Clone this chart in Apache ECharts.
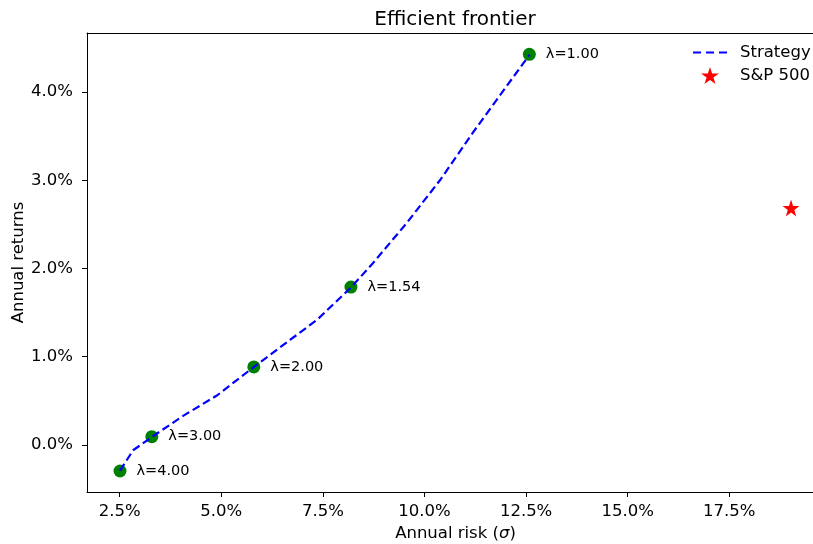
<!DOCTYPE html>
<html>
<head>
<meta charset="utf-8">
<script src="https://cdn.jsdelivr.net/npm/echarts@6/dist/echarts.min.js"></script>
<style>
  html, body { margin: 0; padding: 0; background: #fff; }
  #chart { width: 813px; height: 544px; }
</style>
</head>
<body>
<div id="chart"></div>
<script>
// frontier curve (risk %, return %)
const frontierRisk = [2.507, 2.83, 3.29, 4.06, 4.89, 5.79, 6.69, 7.36, 8.18, 8.73, 9.57, 10.38, 11.19, 12.58];
const frontierRet = [-0.29, -0.06, 0.09, 0.33, 0.56, 0.88, 1.19, 1.42, 1.78, 2.06, 2.52, 3.00, 3.54, 4.42];

// labelled lambda points
const lambdaNames = ['λ=4.00', 'λ=3.00', 'λ=2.00', 'λ=1.54', 'λ=1.00'];
const lambdaRisk = [2.507, 3.29, 5.80, 8.19, 12.58];
const lambdaRet = [-0.295, 0.094, 0.884, 1.79, 4.427];

// benchmark
const spRisk = [19.02];
const spRet = [2.686];

const xTicks = [2.5, 5.0, 7.5, 10.0, 12.5, 15.0, 17.5];
const yTicks = [0.0, 1.0, 2.0, 3.0, 4.0];

const FONT = 'DejaVu Sans';
const FS = 16.5;
const star = 'path://M0,-1 L0.2245,-0.309 L0.951,-0.309 L0.363,0.118 L0.588,0.809 L0,0.382 L-0.588,0.809 L-0.363,0.118 L-0.951,-0.309 L-0.2245,-0.309 Z';
const dashIcon = 'path://M0,0H8V2.2H0Z M13,0H21V2.2H13Z M26,0H34V2.2H26Z';

const chart = echarts.init(document.getElementById('chart'));

const option = {
  backgroundColor: '#fff',
  animation: false,
  textStyle: { fontFamily: FONT },
  title: {
    text: 'Efficient frontier',
    left: 450,
    top: 5,
    textAlign: 'center',
    textStyle: { fontFamily: FONT, fontSize: 20, fontWeight: 'normal', color: '#000' }
  },
  grid: { left: 87, top: 33, right: 0, bottom: 52, outerBoundsMode: 'none', containLabel: false },
  legend: {
    orient: 'vertical',
    left: 693,
    top: 44,
    padding: 0,
    itemWidth: 34,
    itemHeight: 17,
    itemGap: 6,
    textStyle: { fontFamily: FONT, fontSize: FS, color: '#000', padding: [0, 0, 0, 8] },
    data: [
      { name: 'Strategy', icon: dashIcon },
      { name: 'S&P 500' }
    ]
  },
  xAxis: [{
    type: 'value',
    min: 1.695,
    max: 19.56,
    name: 'Annual risk ({i|σ})',
    nameLocation: 'middle',
    nameGap: 28,
    nameTextStyle: {
      fontFamily: FONT, fontSize: FS, color: '#000', padding: [0, 0, 0, 11],
      rich: { i: { fontFamily: FONT, fontSize: FS, fontStyle: 'italic', color: '#000' } }
    },
    splitLine: { show: false },
    axisLine: { show: true, onZero: false, lineStyle: { color: '#000', width: 1 } },
    axisTick: { show: true, length: 5, customValues: xTicks, lineStyle: { color: '#000' } },
    axisLabel: {
      customValues: xTicks,
      fontFamily: FONT, fontSize: FS, color: '#000', margin: 11,
      formatter: v => v.toFixed(1) + '%'
    }
  }, {
    type: 'value',
    position: 'top',
    min: 1.695,
    max: 19.56,
    splitLine: { show: false },
    axisLine: { show: true, onZero: false, lineStyle: { color: '#000', width: 1 } },
    axisTick: { show: false },
    axisLabel: { show: false }
  }],
  yAxis: {
    type: 'value',
    min: -0.533,
    max: 4.669,
    name: 'Annual returns',
    nameLocation: 'middle',
    nameGap: 60,
    nameMoveOverlap: false,
    nameRotate: 90,
    nameTextStyle: { fontFamily: FONT, fontSize: FS, color: '#000' },
    splitLine: { show: false },
    axisLine: { show: true, onZero: false, lineStyle: { color: '#000', width: 1 } },
    axisTick: { show: true, length: 5, customValues: yTicks, lineStyle: { color: '#000' } },
    axisLabel: {
      customValues: yTicks,
      fontFamily: FONT, fontSize: FS, color: '#000', margin: 14,
      formatter: v => v.toFixed(1) + '%'
    }
  },
  series: [
    {
      name: 'lambdas',
      type: 'scatter',
      z: 2,
      symbol: 'circle',
      symbolSize: 13,
      itemStyle: { color: '#008000', opacity: 1 },
      data: lambdaRisk.map((x, i) => ({ value: [x, lambdaRet[i]], name: lambdaNames[i] })),
      label: {
        show: true,
        position: 'right',
        distance: 10,
        fontFamily: FONT,
        fontSize: 14.5,
        color: '#000',
        formatter: p => p.name
      }
    },
    {
      name: 'Strategy',
      type: 'line',
      z: 3,
      symbol: 'none',
      smooth: false,
      lineStyle: { color: '#0000ff', width: 2.2, type: [8, 4] },
      itemStyle: { color: '#0000ff' },
      data: frontierRisk.map((x, i) => [x, frontierRet[i]])
    },
    {
      name: 'S&P 500',
      type: 'scatter',
      z: 3,
      symbol: star,
      symbolSize: 17,
      itemStyle: { color: '#ff0000', opacity: 1 },
      data: spRisk.map((x, i) => [x, spRet[i]])
    }
  ]
};

chart.setOption(option);
</script>
</body>
</html>
